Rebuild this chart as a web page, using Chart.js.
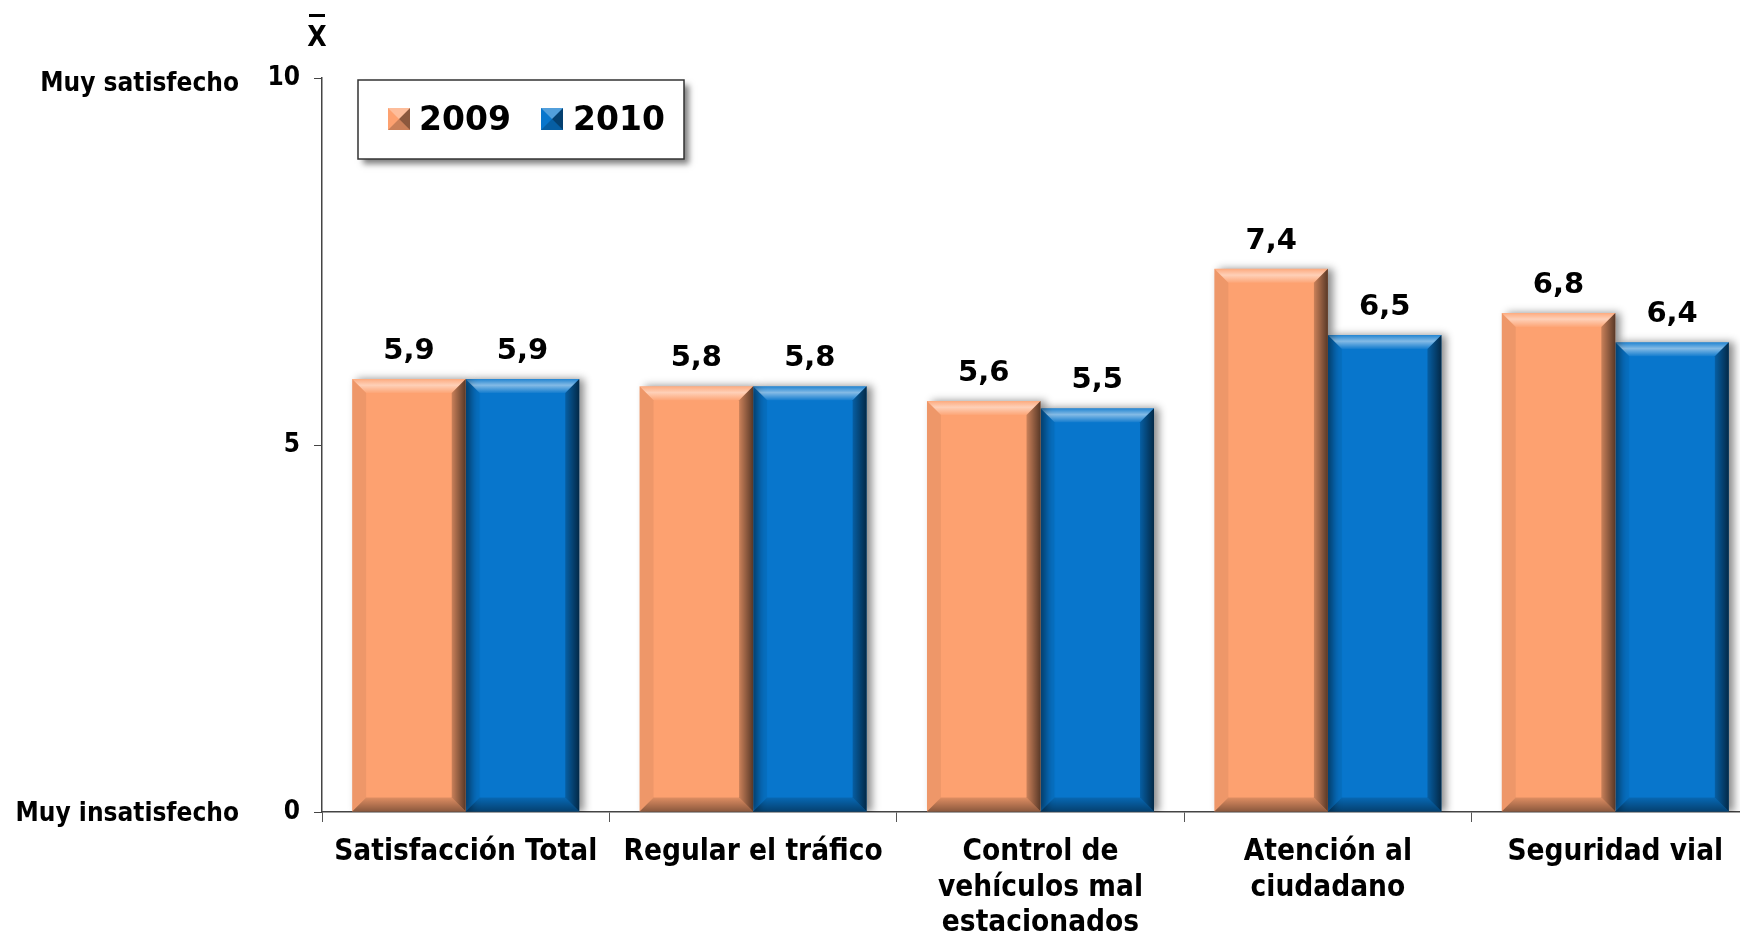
<!DOCTYPE html>
<html>
<head>
<meta charset="utf-8">
<script src="https://cdn.jsdelivr.net/npm/chart.js@4"></script>
<style>
html, body { margin: 0; padding: 0; background: #fff; overflow: hidden; }
</style>
</head>
<body>
<canvas id="barChart" width="1780" height="933"></canvas>
<script>
// data
let categories = [["Satisfacción Total"], ["Regular el tráfico"], ["Control de", "vehículos mal", "estacionados"], ["Atención al", "ciudadano"], ["Seguridad vial"]];
let years = ["2009", "2010"];
let values2009 = [5.9, 5.8, 5.6, 7.4, 6.8];
let values2010 = [5.9, 5.8, 5.5, 6.5, 6.4];
let yTicks = [0, 5, 10];
let yNames = { 0: "Muy insatisfecho", 10: "Muy satisfecho" };

let narrow = "'DejaVu Sans Condensed', 'Liberation Sans Narrow', 'DejaVu Sans', sans-serif";
let wide = "'DejaVu Sans', Verdana, sans-serif";
let orange = 'rgb(253, 161, 112)';
let blue = 'rgb(8, 118, 204)';

function fmt(v) { return v.toFixed(1).replace('.', ','); }

// shadow on the right of the bars
let shadowPlugin = {
    id: 'barShadow',
    beforeDatasetsDraw(chart) {
        let ctx = chart.ctx;
        ctx.save();
        ctx.shadowColor = 'rgba(0,0,0,0.45)';
        ctx.shadowBlur = 8;
        ctx.shadowOffsetX = 5;
        ctx.shadowOffsetY = 0;
    },
    afterDatasetsDraw(chart) {
        chart.ctx.restore();
    }
};

// bevel edges, value labels, axis names, legend
let decoPlugin = {
    id: 'deco',
    afterDatasetsDraw(chart) {
        let ctx = chart.ctx;
        let b = 14;
        chart.data.datasets.forEach((ds, di) => {
            chart.getDatasetMeta(di).data.forEach((bar, i) => {
                let l = bar.x - bar.width / 2, r = bar.x + bar.width / 2, t = bar.y, bt = bar.base;
                let poly = (pts, fill) => {
                    ctx.beginPath();
                    ctx.moveTo(pts[0][0], pts[0][1]);
                    pts.slice(1).forEach(p => ctx.lineTo(p[0], p[1]));
                    ctx.closePath();
                    ctx.fillStyle = fill;
                    ctx.fill();
                };
                let gTop = ctx.createLinearGradient(0, t, 0, t + b);
                gTop.addColorStop(0, 'rgba(255,255,255,0.1)');
                gTop.addColorStop(0.45, 'rgba(255,255,255,0.5)');
                gTop.addColorStop(1, 'rgba(255,255,255,0.05)');
                poly([[l, t], [r, t], [r - b, t + b], [l + b, t + b]], gTop);
                let gR = ctx.createLinearGradient(r - b, 0, r, 0);
                gR.addColorStop(0, 'rgba(0,0,0,0.2)');
                gR.addColorStop(1, 'rgba(0,0,0,0.65)');
                poly([[r, t], [r, bt], [r - b, bt - b], [r - b, t + b]], gR);
                let gB = ctx.createLinearGradient(0, bt - b, 0, bt);
                gB.addColorStop(0, 'rgba(0,0,0,0.12)');
                gB.addColorStop(1, 'rgba(0,0,0,0.45)');
                poly([[l, bt], [r, bt], [r - b, bt - b], [l + b, bt - b]], gB);
                poly([[l, t], [l + b, t + b], [l + b, bt - b], [l, bt]], 'rgba(0,0,0,0.06)');

                ctx.fillStyle = '#000';
                ctx.font = 'bold 29px ' + wide;
                ctx.textAlign = 'center';
                ctx.textBaseline = 'alphabetic';
                ctx.fillText(fmt(ds.data[i]), bar.x, t - 20);
            });
        });

        // y axis names
        let y = chart.scales.y;
        ctx.fillStyle = '#000';
        ctx.font = 'bold 26px ' + narrow;
        ctx.textAlign = 'right';
        ctx.textBaseline = 'middle';
        Object.keys(yNames).forEach(k => {
            ctx.fillText(yNames[k], 239, y.getPixelForValue(+k) + (+k === 10 ? 6 : 2));
        });

        // x-bar symbol
        ctx.textAlign = 'center';
        ctx.font = 'bold 28px ' + narrow;
        ctx.fillText('X', 317, 39);
        ctx.fillRect(309, 14, 16, 3);

        // legend box
        let lx = 358, ly = 80, lw = 326, lh = 79;
        ctx.save();
        ctx.shadowColor = 'rgba(0,0,0,0.5)';
        ctx.shadowBlur = 6;
        ctx.shadowOffsetX = 5;
        ctx.shadowOffsetY = 5;
        ctx.fillStyle = '#fff';
        ctx.fillRect(lx, ly, lw, lh);
        ctx.restore();
        ctx.strokeStyle = '#333';
        ctx.lineWidth = 1.5;
        ctx.strokeRect(lx, ly, lw, lh);
        let items = [[388, 419], [541, 573]];
        chart.data.datasets.forEach((ds, di) => {
            let mx = items[di][0], my = 108, ms = 22;
            ctx.fillStyle = ds.backgroundColor;
            ctx.fillRect(mx, my, ms, ms);
            ctx.fillStyle = 'rgba(0,0,0,0.45)';
            ctx.beginPath();
            ctx.moveTo(mx + ms, my); ctx.lineTo(mx + ms / 2, my + ms / 2); ctx.lineTo(mx + ms, my + ms); ctx.closePath(); ctx.fill();
            ctx.fillStyle = 'rgba(0,0,0,0.2)';
            ctx.beginPath();
            ctx.moveTo(mx, my + ms); ctx.lineTo(mx + ms / 2, my + ms / 2); ctx.lineTo(mx + ms, my + ms); ctx.closePath(); ctx.fill();
            ctx.fillStyle = 'rgba(255,255,255,0.3)';
            ctx.beginPath();
            ctx.moveTo(mx, my); ctx.lineTo(mx + ms / 2, my + ms / 2); ctx.lineTo(mx + ms, my); ctx.closePath(); ctx.fill();
            ctx.fillStyle = '#000';
            ctx.font = 'bold 33px ' + wide;
            ctx.textAlign = 'left';
            ctx.textBaseline = 'middle';
            ctx.fillText(ds.label, items[di][1], 121);
        });
    }
};

let ctxB = document.getElementById("barChart").getContext('2d');
let myBarChart = new Chart(ctxB, {
    type: 'bar',
    data: {
        labels: categories,
        datasets: [
            { label: years[0], data: values2009, backgroundColor: orange },
            { label: years[1], data: values2010, backgroundColor: blue }
        ]
    },
    options: {
        responsive: false,
        animation: false,
        layout: { padding: { top: 78, right: 21, left: 0, bottom: 0 } },
        plugins: { legend: { display: false }, tooltip: { enabled: false } },
        datasets: { bar: { categoryPercentage: 0.79, barPercentage: 1.0 } },
        scales: {
            x: {
                grid: { drawOnChartArea: false, tickLength: 10, color: '#555', offset: true },
                border: { color: '#444', width: 1.5 },
                ticks: { color: '#000', font: { family: narrow, size: 29.5, weight: 'bold', lineHeight: 1.2 }, maxRotation: 0, autoSkip: false, padding: 13 },
                afterFit: s => { s.height = 121; }
            },
            y: {
                min: 0, max: 10,
                grid: { drawOnChartArea: false, tickLength: 8, color: '#444' },
                border: { color: '#444', width: 1.5 },
                ticks: { color: '#000', font: { family: narrow, size: 26, weight: 'bold' }, padding: 14, stepSize: 5 },
                afterBuildTicks: s => { s.ticks = yTicks.map(v => ({ value: v })); },
                afterFit: s => { s.width = 322; }
            }
        }
    },
    plugins: [shadowPlugin, decoPlugin]
});
</script>
</body>
</html>
